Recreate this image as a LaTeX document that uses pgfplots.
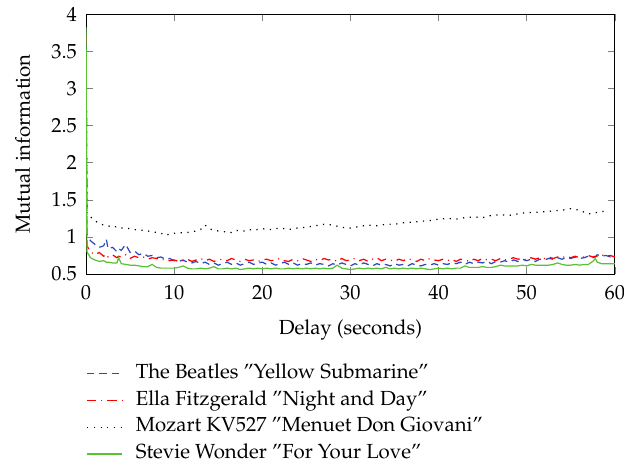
\documentclass[border=0pt]{standalone}
\usepackage[T1]{fontenc}
\usepackage{mathpazo}
\usepackage{pgfplots}
\usepackage{pgfplotstable}
\pgfplotsset{compat=1.18}

\definecolor{beatles}{rgb}{0.18,0.28,0.74}
\definecolor{ella}{rgb}{1,0,0}
\definecolor{stevie}{rgb}{0.35,0.76,0.2}

% delay  beatles  ella  mozart  stevie
\pgfplotstableread{
x     B     E     M     S
0     3.75  3.70  3.60  3.82
0.1   1.02  0.88  1.32  0.80
0.5   0.95  0.80  1.27  0.72
1.0   0.90  0.76  1.22  0.69
1.5   0.86  0.79  1.18  0.67
2.0   0.88  0.74  1.16  0.68
2.3   0.97  0.77  1.15  0.66
2.5   0.84  0.73  1.15  0.66
3.0   0.86  0.76  1.13  0.65
3.5   0.80  0.72  1.14  0.65
3.7   0.84  0.74  1.13  0.72
4.0   0.82  0.73  1.12  0.64
4.5   0.90  0.76  1.12  0.63
5.0   0.79  0.71  1.11  0.62
5.5   0.81  0.74  1.10  0.62
6.0   0.76  0.72  1.09  0.61
6.5   0.78  0.73  1.09  0.60
7.0   0.74  0.70  1.08  0.60
7.5   0.75  0.72  1.07  0.63
8.0   0.72  0.71  1.06  0.59
8.5   0.73  0.69  1.05  0.58
9.0   0.70  0.70  1.02  0.58
9.5   0.71  0.68  1.04  0.58
10.0  0.68  0.69  1.05  0.58
10.5  0.67  0.67  1.05  0.59
11.0  0.69  0.68  1.06  0.61
11.5  0.66  0.70  1.06  0.58
12.0  0.65  0.67  1.07  0.57
12.5  0.67  0.69  1.08  0.57
13.0  0.64  0.71  1.10  0.58
13.5  0.66  0.68  1.16  0.57
14.0  0.63  0.70  1.11  0.58
14.5  0.65  0.67  1.09  0.60
15.0  0.62  0.69  1.08  0.57
15.5  0.64  0.70  1.07  0.57
16.0  0.66  0.68  1.07  0.58
16.5  0.63  0.71  1.06  0.57
17.0  0.65  0.69  1.09  0.58
17.5  0.62  0.67  1.08  0.56
18.0  0.64  0.70  1.08  0.57
18.5  0.66  0.68  1.10  0.58
19.0  0.63  0.69  1.09  0.57
19.5  0.65  0.67  1.10  0.58
20.0  0.66  0.69  1.11  0.57
20.5  0.63  0.70  nan   0.58
21.0  0.65  0.68  1.10  0.57
21.5  0.62  0.69  nan   0.58
22.0  0.64  0.71  1.12  0.57
22.5  0.66  0.68  nan   0.57
23.0  0.63  0.67  1.10  0.58
23.5  0.65  0.70  nan   0.57
24.0  0.62  0.68  1.12  0.58
24.5  0.64  0.71  nan   0.57
25.0  0.63  0.69  1.13  0.58
25.5  0.65  0.67  nan   0.57
26.0  0.62  0.70  1.15  0.58
26.5  0.64  0.68  nan   0.57
27.0  0.63  0.71  1.17  0.58
27.5  0.61  0.69  nan   0.57
28.0  0.64  0.70  1.16  0.58
28.5  0.62  0.67  nan   0.62
29.0  0.65  0.71  1.13  0.58
29.5  0.63  0.68  nan   0.57
30.0  0.61  0.69  1.12  0.56
30.5  0.64  0.71  nan   0.57
31.0  0.62  0.68  1.14  0.58
31.5  0.65  0.70  nan   0.57
32.0  0.63  0.67  1.16  0.58
32.5  0.61  0.70  nan   0.57
33.0  0.64  0.72  1.15  0.58
33.5  0.62  0.68  nan   0.57
34.0  0.63  0.70  1.17  0.59
34.5  0.61  0.69  nan   0.57
35.0  0.64  0.67  1.17  0.58
35.5  0.62  0.70  nan   0.57
36.0  0.63  0.68  1.19  0.58
36.5  0.61  0.71  nan   0.57
37.0  0.64  0.69  1.20  0.58
37.5  0.62  0.67  nan   0.57
38.0  0.61  0.70  1.21  0.58
38.5  0.63  0.68  nan   0.57
39.0  0.62  0.71  1.22  0.56
39.5  0.64  0.69  nan   0.57
40.0  0.62  0.68  1.24  0.58
40.5  0.64  0.70  nan   0.57
41.0  0.63  0.68  1.25  0.58
41.5  0.65  0.70  nan   0.57
42.0  0.64  0.67  1.24  0.58
42.5  0.66  0.70  nan   0.58
43.0  0.63  0.69  1.26  0.61
43.5  0.66  0.67  nan   0.59
44.0  0.64  0.70  1.27  0.59
44.5  0.66  0.68  nan   0.59
45.0  0.65  0.71  1.26  0.60
45.5  0.67  0.69  nan   0.59
46.0  0.64  0.70  1.29  0.59
46.5  0.67  0.68  nan   0.60
47.0  0.66  0.71  1.30  0.62
47.5  0.68  0.69  nan   0.61
48.0  0.66  0.70  1.29  0.61
48.5  0.69  0.72  nan   0.61
49.0  0.67  0.70  1.31  0.61
49.5  0.70  0.71  nan   0.62
50.0  0.68  0.69  1.33  0.61
50.5  0.70  0.72  nan   0.63
51.0  0.67  0.70  1.33  0.62
51.5  0.70  0.72  nan   0.62
52.0  0.69  0.71  1.34  0.62
52.5  0.71  0.73  nan   0.62
53.0  0.70  0.71  1.35  0.63
53.5  0.72  0.73  nan   0.65
54.0  0.70  0.72  1.36  0.63
54.5  0.72  0.74  nan   0.62
55.0  0.71  0.72  1.38  0.62
55.5  0.73  0.74  nan   0.63
56.0  0.71  0.72  1.36  0.62
56.5  0.72  0.73  nan   0.63
57.0  0.74  0.75  1.31  0.63
57.5  0.72  0.73  nan   0.67
57.8  0.73  0.74  nan   0.71
58.0  0.76  0.74  1.33  0.66
58.5  0.74  0.76  nan   0.64
59.0  0.75  0.74  1.35  0.64
59.5  0.73  0.75  nan   0.64
60.0  0.75  0.73  nan   0.64
}\mitable

\begin{document}
\begin{tikzpicture}
\begin{axis}[
    at={(0,0)}, anchor=south west,
    width=259.3pt, height=127.5pt, scale only axis,
    xmin=0, xmax=60, ymin=0.5, ymax=4,
    xtick={0,10,...,60},
    ytick={0.5,1,...,4},
    tick align=inside,
    major tick length=3.5pt,
    xticklabel style={yshift=-2pt},
    yticklabel style={xshift=-1pt},
    xlabel={Delay (seconds)},
    ylabel={Mutual information},
    xlabel style={at={(axis description cs:0.5,-0.2157)}, anchor=center},
    ylabel style={at={(axis description cs:-0.1196,0.5)}, anchor=center},
    legend style={draw=none, fill=none, at={(0,-0.349)}, anchor=north west,
        inner sep=0pt, row sep=4.6pt, column sep=6.4pt,
        nodes={inner xsep=0pt, inner ysep=0pt, text height=6.5pt, text depth=2pt}},
    legend cell align=left,
    legend image code/.code={\draw[#1] (0pt,0pt) -- (17.2pt,0pt);},
]
\addplot[color=beatles, line width=0.6pt, dash pattern=on 3.6pt off 2.4pt] table[x=x, y=B] {\mitable};
\addlegendentry{The Beatles ''Yellow Submarine''}
\addplot[color=ella, line width=0.6pt, dash pattern=on 4.5pt off 2.5pt on 0.5pt off 2.5pt] table[x=x, y=E] {\mitable};
\addlegendentry{Ella Fitzgerald ''Night and Day''}
\addplot[color=black, line width=0.6pt, dash pattern=on 0.6pt off 2.7pt] table[x=x, y=M] {\mitable};
\addlegendentry{Mozart KV527 ''Menuet Don Giovani''}
\addplot[color=stevie, line width=0.6pt] table[x=x, y=S] {\mitable};
\addlegendentry{Stevie Wonder ''For Your Love''}
\end{axis}
\pgfresetboundingbox
\path[use as bounding box] (-42.2pt,-93.1pt) rectangle (263.8pt,134.4pt);
\end{tikzpicture}
\end{document}
